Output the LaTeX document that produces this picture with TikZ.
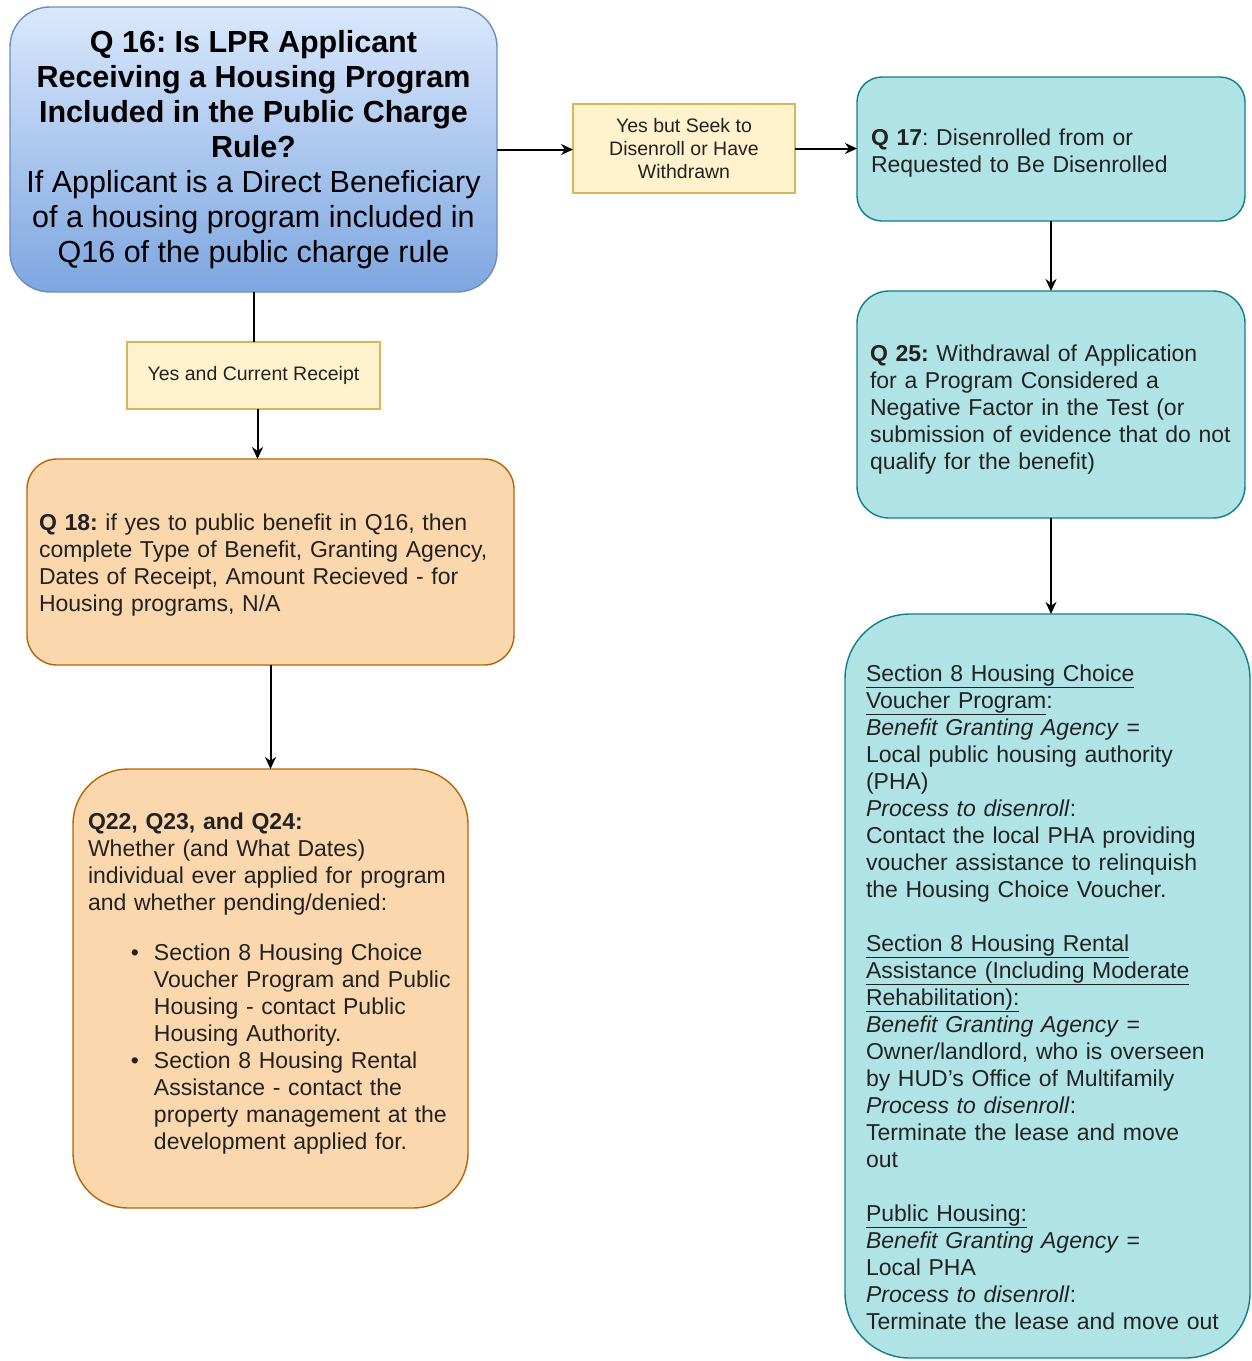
\documentclass[tikz,border=0pt]{standalone}
\usepackage{fontspec}
\setmainfont{Liberation Sans}
\usetikzlibrary{arrows.meta}
\definecolor{bluetop}{HTML}{DAE8FC}
\definecolor{bluebot}{HTML}{7EA6E0}
\definecolor{bluestroke}{HTML}{6C8EBF}
\definecolor{yelfill}{HTML}{FFF2CC}
\definecolor{yelstroke}{HTML}{D6B656}
\definecolor{orfill}{HTML}{FAD7AC}
\definecolor{orstroke}{HTML}{B46504}
\definecolor{tealfill}{HTML}{B0E3E6}
\definecolor{tealstroke}{HTML}{0E8088}
\definecolor{txt}{HTML}{222222}
\newcommand\topstrut[1]{\rule{0pt}{#1}}
\newcommand\botstrut[1]{\rule[-#1]{0pt}{0pt}}
\frenchspacing
\begin{document}
\begin{tikzpicture}[x=1pt,y=-1pt,
  every node/.style={inner sep=0pt, outer sep=0pt},
  bluebox/.style={draw=bluestroke, line width=1.4pt, rounded corners=40pt,
    top color=bluetop, bottom color=bluebot, align=center, text=black,
    font=\fontsize{30.5}{35}\selectfont\frenchspacing},
  labelbox/.style={draw=yelstroke, line width=1.2pt, fill=yelfill, align=center,
    text=txt, font=\fontsize{19.5}{23}\selectfont\frenchspacing},
  orbox/.style={draw=orstroke, line width=1.4pt, fill=orfill, align=left,
    text=txt, font=\fontsize{23}{27}\selectfont\frenchspacing},
  tealbox/.style={draw=tealstroke, line width=1.4pt, fill=tealfill, align=left,
    text=txt, font=\fontsize{23}{27}\selectfont\frenchspacing},
  conn/.style={line width=2pt, -{Stealth[length=12pt,width=11pt]}},
  plain/.style={line width=2pt}
]
\useasboundingbox (0,0) rectangle (1252,1361);

% Q16
\node[bluebox, minimum width=487pt, minimum height=285pt] (q16) at (253.5,149.5)
 {\textbf{Q 16: Is LPR Applicant}\\
  \textbf{Receiving a Housing Program}\\
  \textbf{Included in the Public Charge}\\
  \textbf{Rule?}\\
  If Applicant is a Direct Beneficiary\\
  of a housing program included in\\
  Q16 of the public charge rule};

% label right
\node[labelbox, minimum width=222pt, minimum height=89pt] (lab1) at (684,148.5)
 {Yes but Seek to\\Disenroll or Have\\Withdrawn};

% Q17
\node[tealbox, rounded corners=25pt, minimum width=388pt, minimum height=144pt,
  text width=386pt] (q17) at (1051,149)
 {\leftskip=13pt\relax
  \topstrut{25pt}\textbf{Q 17}: Disenrolled from or\\Requested to Be Disenrolled\par};

% Q25
\node[tealbox, rounded corners=32pt, minimum width=388pt, minimum height=227pt,
  text width=386pt] (q25) at (1051,404.5)
 {\leftskip=12pt\relax
  \topstrut{27pt}\textbf{Q 25:} Withdrawal of Application\\
  for a Program Considered a\\
  Negative Factor in the Test (or\\
  submission of evidence that do not\\
  qualify for the benefit)\par};

% Big right box
\node[tealbox, rounded corners=65pt, minimum width=405pt, minimum height=744pt,
  text width=403pt] (big) at (1047.5,986)
 {\leftskip=20pt\relax
  \topstrut{39pt}\underline{Section 8 Housing Choice}\\
  \underline{Voucher Program}:\\
  \textit{Benefit Granting Agency} =\\
  Local public housing authority\\
  (PHA)\\
  \textit{Process to disenroll}:\\
  Contact the local PHA providing\\
  voucher assistance to relinquish\\
  the Housing Choice Voucher.\\[27pt]
  \underline{Section 8 Housing Rental}\\
  \underline{Assistance (Including Moderate}\\
  \underline{Rehabilitation):}\\
  \textit{Benefit Granting Agency} =\\
  Owner/landlord, who is overseen\\
  by HUD’s Office of Multifamily\\
  \textit{Process to disenroll}:\\
  Terminate the lease and move\\
  out\\[27pt]
  \underline{Public Housing:}\\
  \textit{Benefit Granting Agency} =\\
  Local PHA\\
  \textit{Process to disenroll}:\\
  Terminate the lease and move out\par};

% label down
\node[labelbox, minimum width=253pt, minimum height=67pt] (lab2) at (253.5,375.5)
 {Yes and Current Receipt};

% Q18
\node[orbox, rounded corners=30pt, minimum width=487pt, minimum height=206pt,
  text width=485pt] (q18) at (270.5,562)
 {\leftskip=11pt\relax
  \topstrut{23pt}\textbf{Q 18:} if yes to public benefit in Q16, then\\
  complete Type of Benefit, Granting Agency,\\
  Dates of Receipt, Amount Recieved - for\\
  Housing programs, N/A\par};

% Q22
\node[orbox, rounded corners=55pt, minimum width=395pt, minimum height=439pt,
  text width=393pt] (q22) at (270.5,988.5)
 {\leftskip=14pt\relax
  \textbf{Q22, Q23, and Q24:}\\
  Whether (and What Dates)\\
  individual ever applied for program\\
  and whether pending/denied:\\[23pt]
  \hspace*{43pt}\makebox[23pt][l]{\textbullet}Section 8 Housing Choice\\
  \hspace*{66pt}Voucher Program and Public\\
  \hspace*{66pt}Housing - contact Public\\
  \hspace*{66pt}Housing Authority.\\
  \hspace*{43pt}\makebox[23pt][l]{\textbullet}Section 8 Housing Rental\\
  \hspace*{66pt}Assistance - contact the\\
  \hspace*{66pt}property management at the\\
  \hspace*{66pt}development applied for.\botstrut{15pt}\par};

% connectors
\draw[conn] (q16.east) -- (q16.east -| lab1.west);
\draw[conn] (lab1.east) -- (lab1.east -| q17.west);
\draw[plain] (q16.south) -- (lab2.north);
\draw[conn] ([xshift=4pt]lab2.south) -- ([xshift=4pt]lab2.south |- q18.north);
\draw[conn] (q18.south) -- (q22.north);
\draw[conn] (q17.south) -- (q17.south |- q25.north);
\draw[conn] (q25.south) -- (q25.south |- big.north);
\end{tikzpicture}
\end{document}
